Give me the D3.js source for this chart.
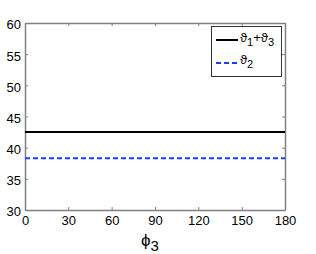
<!DOCTYPE html>
<html lang="en">
<head>
    <meta charset="UTF-8">
    <title>phi3 chart</title>
    <script src="https://d3js.org/d3.v7.min.js"></script>
    <style>
        body { margin: 0; padding: 0; background: #fff; }
        text { font-family: 'Liberation Sans', Arial, sans-serif; }
    </style>
</head>
<body>
    <script>
        // Datos
        const phi3 = [0, 180];
        const sum13 = [42.5, 42.5];
        const theta2 = [38.3, 38.3];
        const xTicks = [0, 30, 60, 90, 120, 150, 180];
        const yTicks = [30, 35, 40, 45, 50, 55, 60];

        const width = 316, height = 254;
        const margin = { top: 23, right: 31, bottom: 44, left: 25 };

        const svg = d3.select("body")
            .append("svg")
            .attr("width", width)
            .attr("height", height);

        const x = d3.scaleLinear().domain([0, 180]).range([margin.left, width - margin.right]);
        const y = d3.scaleLinear().domain([30, 60]).range([height - margin.bottom, margin.top]);

        const axisColor = "#808080";

        // Ejes
        const gx = svg.append("g")
            .attr("transform", `translate(0,${y(30)})`)
            .call(d3.axisBottom(x).tickValues(xTicks).tickSizeInner(-3).tickSizeOuter(0).tickPadding(6));
        const gxTop = svg.append("g")
            .attr("transform", `translate(0,${y(60)})`)
            .call(d3.axisTop(x).tickValues(xTicks).tickSizeInner(-3).tickSizeOuter(0).tickFormat(""));
        const gy = svg.append("g")
            .attr("transform", `translate(${x(0)},0)`)
            .call(d3.axisLeft(y).tickValues(yTicks).tickSizeInner(-3).tickSizeOuter(0).tickPadding(4));
        const gyRight = svg.append("g")
            .attr("transform", `translate(${x(180)},0)`)
            .call(d3.axisRight(y).tickValues(yTicks).tickSizeInner(-3).tickSizeOuter(0).tickFormat(""));

        [gx, gxTop, gy, gyRight].forEach(g => {
            g.selectAll("path, line").attr("stroke", axisColor).attr("stroke-width", 1.5);
            g.selectAll("line").attr("stroke-width", 1);
            g.selectAll("text").attr("fill", "#000").attr("font-size", "13px")
                .attr("font-family", "'Liberation Sans', Arial, sans-serif");
        });
        gy.selectAll("text").attr("dy", "0.45em");

        // Líneas
        const line = vals => d3.line()
            .x((d, i) => x(phi3[i]))
            .y(d => y(d))(vals);

        svg.append("path")
            .attr("d", line(sum13))
            .attr("fill", "none")
            .attr("stroke", "#000")
            .attr("stroke-width", 2);

        svg.append("path")
            .attr("d", line(theta2))
            .attr("fill", "none")
            .attr("stroke", "#1f3fff")
            .attr("stroke-width", 2)
            .attr("stroke-dasharray", "5,3");

        // Etiqueta del eje x
        const xl = svg.append("text")
            .attr("x", 150)
            .attr("y", 246)
            .attr("text-anchor", "middle")
            .attr("font-size", "17px");
        xl.append("tspan").text("ϕ");
        xl.append("tspan").attr("dy", 5).attr("font-size", "15px").text("3");

        // Leyenda
        const lg = svg.append("g");
        lg.append("rect")
            .attr("x", 211.5).attr("y", 26.5)
            .attr("width", 70).attr("height", 50)
            .attr("fill", "#fff")
            .attr("stroke", "#333")
            .attr("stroke-width", 1);

        lg.append("line")
            .attr("x1", 216).attr("x2", 238).attr("y1", 40).attr("y2", 40)
            .attr("stroke", "#000").attr("stroke-width", 2);
        lg.append("line")
            .attr("x1", 216).attr("x2", 238).attr("y1", 63).attr("y2", 63)
            .attr("stroke", "#1f3fff").attr("stroke-width", 2)
            .attr("stroke-dasharray", "5,3");

        const t1 = lg.append("text").attr("x", 240).attr("y", 42).attr("font-size", "13px");
        t1.append("tspan").text("ϑ");
        t1.append("tspan").attr("dy", 4).attr("font-size", "11px").text("1");
        t1.append("tspan").attr("dy", -4).text("+ϑ");
        t1.append("tspan").attr("dy", 4).attr("font-size", "11px").text("3");

        const t2 = lg.append("text").attr("x", 240).attr("y", 64).attr("font-size", "13px");
        t2.append("tspan").text("ϑ");
        t2.append("tspan").attr("dy", 4).attr("font-size", "11px").text("2");
    </script>
</body>
</html>
